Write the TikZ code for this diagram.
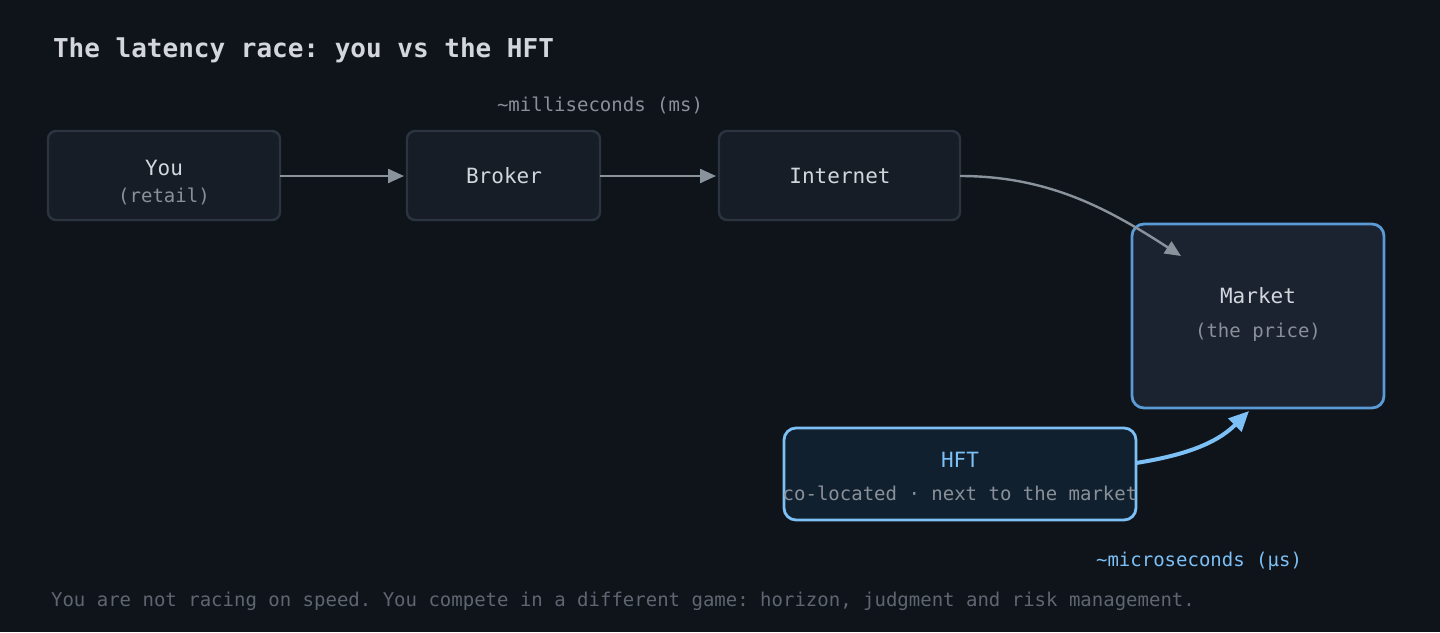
\documentclass[tikz,border=0pt]{standalone}
\usepackage{fontspec}
\setmonofont{DejaVu Sans Mono}
\usetikzlibrary{arrows.meta}
\definecolor{bg}{HTML}{0F141B}
\definecolor{boxf}{HTML}{161D26}
\definecolor{boxd}{HTML}{2C343F}
\definecolor{txt}{HTML}{D3D7DD}
\definecolor{sub}{HTML}{8A9099}
\definecolor{arr}{HTML}{8A929C}
\definecolor{mkd}{HTML}{5B9BD5}
\definecolor{mkf}{HTML}{1B2230}
\definecolor{hftd}{HTML}{7CC0F5}
\definecolor{hftf}{HTML}{10202E}
\definecolor{foot}{HTML}{5F6670}
\tikzset{
 box/.style={draw=boxd,fill=boxf,line width=1.2pt,rounded corners=4pt},
 t/.style={font=\ttfamily\fontsize{10.5}{12}\selectfont,text=txt},
 s/.style={font=\ttfamily\fontsize{9.5}{11}\selectfont,text=sub},
 ar/.style={draw=arr,line width=1.2pt,-{Triangle[length=8pt,width=7pt]}},
}
\begin{document}
\begin{tikzpicture}[x=0.5pt,y=-0.5pt]
\fill[bg] (0,0) rectangle (1440,632);
\useasboundingbox (0,0) rectangle (1440,632);
\node[anchor=west,font=\ttfamily\bfseries\fontsize{13}{15}\selectfont,text=txt] (title) at (46,50) {The latency race: you vs the HFT};
\draw[box] (48,131) rectangle (280,220);
\draw[box] (407,131) rectangle (600,220);
\draw[box] (719,131) rectangle (960,220);
\draw[draw=mkd,fill=mkf,line width=1.4pt,rounded corners=6pt] (1132,224) rectangle (1384,408);
\draw[draw=hftd,fill=hftf,line width=1.4pt,rounded corners=6pt] (784,428) rectangle (1136,520);
\coordinate (you) at (280,176);
\coordinate (brokerW) at (404,176);
\coordinate (brokerE) at (600,176);
\coordinate (netW) at (716,176);
\coordinate (netE) at (960,176);
\coordinate (mkIn) at (1181,256);
\coordinate (hftE) at (1136,463);
\coordinate (mkIn2) at (1249,411);
\node[t] (y1) at (164,168) {You};
\node[s] (y2) at (164,196) {(retail)};
\node[t] (b) at (504,176) {Broker};
\node[t] (n) at (840,176) {Internet};
\node[t] (m1) at (1258,296) {Market};
\node[s] (m2) at (1258,332) {(the price)};
\node[t,text=hftd] (h1) at (960,460) {HFT};
\node[s] (h2) at (960,493) {co-located · next to the market};
\node[s] (ms) at (600,105) {\textasciitilde milliseconds (ms)};
\node[s,text=hftd] (us) at (1199,561) {\textasciitilde microseconds (µs)};
\node[s,text=foot,anchor=west] (ft) at (44,601) {You are not racing on speed. You compete in a different game: horizon, judgment and risk management.};
\draw[ar] (you) -- (brokerW);
\draw[ar] (brokerE) -- (netW);
\draw[ar] (netE) .. controls (1050,176) and (1110,210) .. (mkIn);
\draw[draw=hftd,line width=2pt,-{Triangle[length=10pt,width=9pt]}] (hftE) .. controls (1180,456) and (1215,445) .. (mkIn2);
\end{tikzpicture}
\end{document}
